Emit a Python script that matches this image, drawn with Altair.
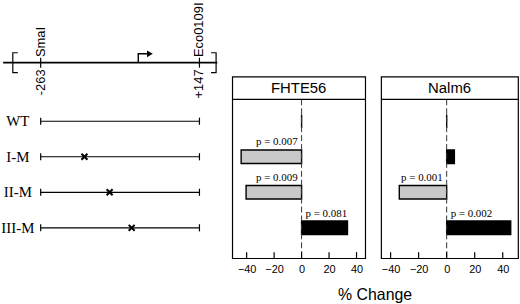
import altair as alt
import pandas as pd

# ---------------- data ----------------
constructs = ["WT", "I-M", "II-M", "III-M"]
mutation_bp = [None, -150, -85, -28]          # position of the mutated site (bp)
panels = ["FHTE56", "Nalm6"]
fhte_change = [0.0, -44.0, -40.4, 33.4]
fhte_p = ["", "p = 0.007", "p = 0.009", "p = 0.081"]
nalm_change = [0.0, 5.5, -33.8, 45.7]
nalm_p = ["", "", "p = 0.001", "p = 0.002"]
axis_ticks = [-40, -20, 0, 20, 40]

site_names = ["SmaI", "Eco0109I"]
site_bp = [-263, 147]
site_labels = ["-263", "+147"]
tss_bp = -11

# ---------------- layout constants (row units / bp) ----------------
ROW_TOP, HEADER_BOTTOM, ROW_BOTTOM = -1.257, -0.615, 3.855
MAP_Y = -1.648
HALF_BAR = 0.19
PANEL_H = 183

yscale = alt.Scale(domain=[ROW_TOP, ROW_BOTTOM], reverse=True, nice=False, zero=False)
SANS = "Liberation Sans"
SERIF = "Liberation Serif"

# ---------------- left schematic ----------------
left_dom = [-365.5, 198.3]
lxs = alt.Scale(domain=left_dom, nice=False, zero=False)


def LX(f):
    return alt.X(f, type="quantitative", scale=lxs, axis=None)


def LY(f):
    return alt.Y(f, type="quantitative", scale=yscale, axis=None)


map_line = alt.Chart(pd.DataFrame({"x": [-360], "x2": [193], "y": [MAP_Y]})).mark_rule(
    color="black", strokeWidth=1.8).encode(x=LX("x"), x2="x2:Q", y=LY("y"))

sites = pd.DataFrame({"bp": site_bp, "name": site_names, "lab": site_labels,
                      "y1": [MAP_Y - 0.14] * 2, "y2": [MAP_Y + 0.14] * 2,
                      "yn": [MAP_Y - 0.16] * 2, "yl": [MAP_Y + 0.19] * 2})
site_ticks = alt.Chart(sites).mark_rule(color="black", strokeWidth=1.2).encode(
    x=LX("bp"), y=LY("y1"), y2="y2:Q")
site_names_t = alt.Chart(sites).mark_text(angle=270, align="left", baseline="middle",
                                          font=SANS, fontSize=13, color="black").encode(
    x=LX("bp"), y=LY("yn"), text="name:N")
site_labels_t = alt.Chart(sites).mark_text(angle=270, align="right", baseline="middle",
                                           font=SANS, fontSize=13, color="black").encode(
    x=LX("bp"), y=LY("yl"), text="lab:N")

br = pd.DataFrame({
    "id": ["L"] * 4 + ["R"] * 4,
    "o": [0, 1, 2, 3] * 2,
    "bp": [-322, -335, -335, -322, 177, 190, 190, 177],
    "y": [MAP_Y - 0.28, MAP_Y - 0.28, MAP_Y + 0.28, MAP_Y + 0.28] * 2,
})
brackets = alt.Chart(br).mark_line(color="black", strokeWidth=1.2).encode(
    x=LX("bp"), y=LY("y"), detail="id:N", order="o:Q")

arr = pd.DataFrame({"o": [0, 1, 2], "bp": [tss_bp, tss_bp, tss_bp + 26],
                    "y": [MAP_Y, MAP_Y - 0.25, MAP_Y - 0.25]})
arrow_line = alt.Chart(arr).mark_line(color="black", strokeWidth=1.4).encode(
    x=LX("bp"), y=LY("y"), order="o:Q")
arrow_head = alt.Chart(pd.DataFrame({"bp": [tss_bp + 30], "y": [MAP_Y - 0.25]})).mark_point(
    shape="triangle-right", filled=True, color="black", size=45, opacity=1).encode(
    x=LX("bp"), y=LY("y"))

rows_df = pd.DataFrame({"construct": constructs, "row": list(range(len(constructs))),
                        "mut": mutation_bp})
rows_df["start"] = site_bp[0]
rows_df["end"] = site_bp[1]
rows_df["lab_x"] = -322
rows_df["cap1"] = rows_df["row"] - 0.1
rows_df["cap2"] = rows_df["row"] + 0.1

row_lines = alt.Chart(rows_df).mark_rule(color="black", strokeWidth=1.2).encode(
    x=LX("start"), x2="end:Q", y=LY("row"))
caps_df = pd.concat([rows_df.assign(cx=rows_df["start"]), rows_df.assign(cx=rows_df["end"])])
row_caps = alt.Chart(caps_df).mark_rule(color="black", strokeWidth=1.2).encode(
    x=LX("cx"), y=LY("cap1"), y2="cap2:Q")
mut_marks = alt.Chart(rows_df.dropna(subset=["mut"])).mark_point(
    shape="M-1,-1L1,1M1,-1L-1,1", filled=False, color="black", strokeWidth=2,
    size=36, opacity=1).encode(x=LX("mut"), y=LY("row"))
row_labels = alt.Chart(rows_df).mark_text(font=SERIF, fontSize=15, color="black",
                                          align="center", baseline="middle").encode(
    x=LX("lab_x"), y=LY("row"), text="construct:N")

left = alt.layer(map_line, site_ticks, site_names_t, site_labels_t, brackets,
                 arrow_line, arrow_head, row_lines, row_caps, mut_marks, row_labels).properties(
    width=220, height=PANEL_H, view=alt.ViewBackground(stroke="transparent"))


# ---------------- bar panels ----------------
def make_panel(name, changes, pvals, domain, width):
    df = pd.DataFrame({"construct": constructs, "row": list(range(len(constructs))),
                       "change": changes, "p": pvals})
    df["base"] = 0
    df["y1"] = df["row"] - HALF_BAR
    df["y2"] = df["row"] + HALF_BAR
    df["sign"] = ["neg" if v < 0 else "pos" for v in changes]

    xs = alt.Scale(domain=domain, nice=False, zero=False)
    ax = alt.Axis(values=axis_ticks, ticks=False, domain=False, grid=False,
                  labelFontSize=11, labelFont=SANS, labelColor="black",
                  labelPadding=5, labelFlush=False, title=None)

    def X(f):
        return alt.X(f, type="quantitative", scale=xs, axis=ax, title=None)

    def Y(f):
        return alt.Y(f, type="quantitative", scale=yscale, axis=None)

    bars = alt.Chart(df).mark_rect(stroke="black", strokeWidth=1.4).encode(
        x=X("change"), x2="base:Q", y=Y("y1"), y2="y2:Q",
        fill=alt.Fill("sign:N", scale=alt.Scale(domain=["neg", "pos"],
                                                range=["#c9c9c9", "#000000"]), legend=None))
    zero = alt.Chart(pd.DataFrame({"x": [0], "y": [HEADER_BOTTOM], "y2": [ROW_BOTTOM]})).mark_rule(
        color="#333333", strokeWidth=1, strokeDash=[6, 3]).encode(x=X("x"), y=Y("y"), y2="y2:Q")
    header_rule = alt.Chart(pd.DataFrame({"x": [domain[0]], "x2": [domain[1]],
                                          "y": [HEADER_BOTTOM]})).mark_rule(
        color="black", strokeWidth=1.2).encode(x=X("x"), x2="x2:Q", y=Y("y"))
    header_text = alt.Chart(pd.DataFrame({"x": [(domain[0] + domain[1]) / 2],
                                          "y": [(ROW_TOP + HEADER_BOTTOM) / 2],
                                          "t": [name]})).mark_text(
        font=SANS, fontSize=15, color="black", baseline="middle", align="center").encode(
        x=X("x"), y=Y("y"), text="t:N")
    tick_df = pd.DataFrame({"x": axis_ticks})
    tick_df["y"] = ROW_BOTTOM
    tick_df["y2"] = ROW_BOTTOM - 0.17
    ticks = alt.Chart(tick_df).mark_rule(color="black", strokeWidth=1.2).encode(
        x=X("x"), y=Y("y"), y2="y2:Q")
    pdf = df[df["p"] != ""]
    p_neg = alt.Chart(pdf[pdf["change"] < 0]).mark_text(
        font=SERIF, fontSize=11, color="black", align="right", baseline="alphabetic",
        dx=-4, dy=-5).encode(x=X("base"), y=Y("y1"), text="p:N")
    p_pos = alt.Chart(pdf[pdf["change"] >= 0]).mark_text(
        font=SERIF, fontSize=11, color="black", align="left", baseline="alphabetic",
        dx=4, dy=-4).encode(x=X("base"), y=Y("y1"), text="p:N")
    return alt.layer(bars, zero, header_rule, header_text, ticks, p_neg, p_pos).properties(
        width=width, height=PANEL_H,
        view=alt.ViewBackground(stroke="black", strokeWidth=1.2))


fhte = make_panel(panels[0], fhte_change, fhte_p, [-50.5, 46.3], 134)
nalm = make_panel(panels[1], nalm_change, nalm_p, [-46.8, 50.9], 138)

right = alt.hconcat(fhte, nalm, spacing=12).properties(
    title=alt.TitleParams("% Change", orient="bottom", anchor="middle", fontSize=16,
                          font=SANS, fontWeight="normal", color="black", offset=13))

chart = alt.hconcat(left, right, spacing=10).properties(
    padding={"left": 0, "top": 0, "right": 0, "bottom": 0}, background="white")

chart.save("out.html", embed_options={"renderer": "svg", "actions": False})
